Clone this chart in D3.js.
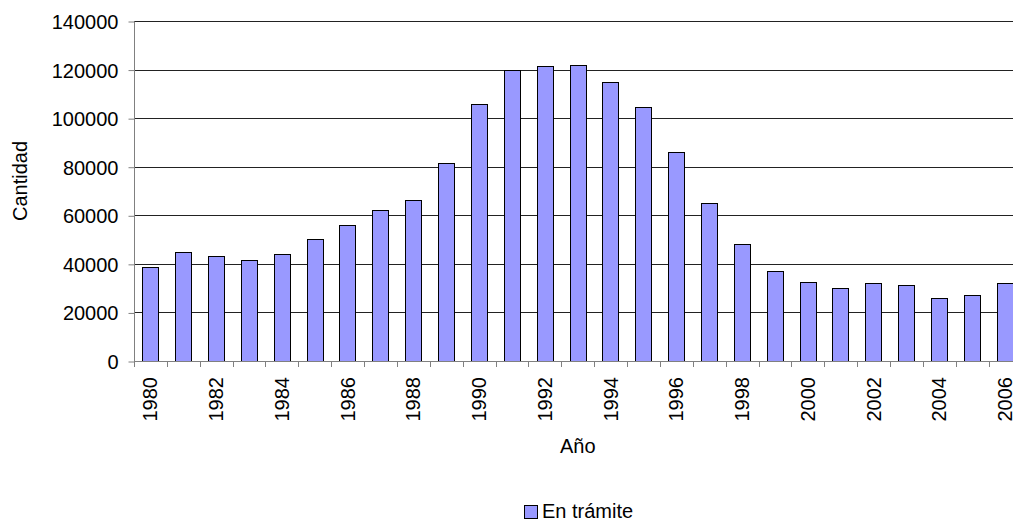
<!DOCTYPE html>
<html>
<head>
<meta charset="utf-8">
<script src="https://cdn.jsdelivr.net/npm/d3@7"></script>
<style>
  html, body { margin: 0; padding: 0; background: #fff; }
  svg { display: block; }
  text { font-family: "Liberation Sans", Arial, sans-serif; fill: #000; }
</style>
</head>
<body>
<svg id="chart" width="1013" height="523"></svg>
<script>
// Expedientes en trámite por año
const years = [1980, 1981, 1982, 1983, 1984, 1985, 1986, 1987, 1988, 1989,
               1990, 1991, 1992, 1993, 1994, 1995, 1996, 1997, 1998, 1999,
               2000, 2001, 2002, 2003, 2004, 2005, 2006];
const enTramite = [38600, 44700, 43100, 41500, 43900, 50200, 55800, 62000, 66100, 81500,
                   105700, 119700, 121300, 121700, 114700, 104400, 85900, 64900, 48000, 36900,
                   32400, 29900, 32200, 31100, 25800, 27000, 32000];
const yTicks = [0, 20000, 40000, 60000, 80000, 100000, 120000, 140000];
const seriesName = "En trámite";

const svg = d3.select("#chart");
const fontSize = 20;

const plot = { left: 134, top: 21, bottom: 361 };
const step = 32.87;
plot.right = plot.left + years.length * step;

const x = d3.scaleBand()
  .domain(years)
  .range([plot.left, plot.right])
  .paddingInner(0.5)
  .paddingOuter(0.25);

const y = d3.scaleLinear()
  .domain([0, 140000])
  .range([plot.bottom, plot.top]);

// horizontal gridlines
svg.append("g")
  .selectAll("line")
  .data(yTicks.filter(d => d > 0))
  .join("line")
  .attr("x1", plot.left)
  .attr("x2", plot.right)
  .attr("y1", d => Math.round(y(d)) + 0.5)
  .attr("y2", d => Math.round(y(d)) + 0.5)
  .attr("stroke", "#222")
  .attr("stroke-width", 1);

// bars
svg.append("g")
  .selectAll("rect")
  .data(years.map((yr, i) => ({ yr, v: enTramite[i] })))
  .join("rect")
  .attr("x", d => Math.round(x(d.yr)) + 0.5)
  .attr("y", d => Math.round(y(d.v)) + 0.5)
  .attr("width", Math.round(x.bandwidth()))
  .attr("height", d => Math.round(y(0)) - Math.round(y(d.v)))
  .attr("fill", "#9999ff")
  .attr("stroke", "#000")
  .attr("stroke-width", 1);

// y axis
const yAxis = d3.axisLeft(y)
  .tickValues(yTicks)
  .tickSize(6)
  .tickPadding(10)
  .tickFormat(d3.format("d"));
const gy = svg.append("g")
  .attr("transform", `translate(${plot.left + 0.5},0.5)`)
  .call(yAxis);
gy.select(".domain").attr("stroke", "#808080").attr("d", `M0,${plot.top}V${plot.bottom}`);
gy.selectAll(".tick line").attr("stroke", "#808080");
gy.selectAll(".tick text")
  .style("font-family", "'Liberation Sans', Arial, sans-serif")
  .style("font-size", fontSize + "px")
  .attr("dy", "0.35em");

// x axis baseline, ticks between categories and labels for even years
const gx = svg.append("g");
gx.append("line")
  .attr("x1", plot.left)
  .attr("x2", plot.right)
  .attr("y1", plot.bottom + 0.5)
  .attr("y2", plot.bottom + 0.5)
  .attr("stroke", "#808080");
gx.selectAll("line.tick")
  .data(d3.range(years.length + 1))
  .join("line")
  .attr("class", "tick")
  .attr("x1", i => Math.round(plot.left + i * x.step()) + 0.5)
  .attr("x2", i => Math.round(plot.left + i * x.step()) + 0.5)
  .attr("y1", plot.bottom)
  .attr("y2", plot.bottom + 6)
  .attr("stroke", "#808080");
gx.selectAll("text")
  .data(years.filter(yr => yr % 2 === 0))
  .join("text")
  .attr("transform", yr => `translate(${x(yr) + x.bandwidth() / 2},${plot.bottom + 16}) rotate(-90)`)
  .attr("text-anchor", "end")
  .attr("dy", "0.35em")
  .style("font-size", fontSize + "px")
  .text(yr => yr);

// axis titles
svg.append("text")
  .attr("x", (plot.left + plot.right) / 2)
  .attr("y", 453)
  .attr("text-anchor", "middle")
  .style("font-size", fontSize + "px")
  .text("Año");

svg.append("text")
  .attr("transform", `translate(27,${181}) rotate(-90)`)
  .attr("text-anchor", "middle")
  .style("font-size", fontSize + "px")
  .text("Cantidad");

// legend
const legend = svg.append("g").attr("transform", "translate(524,505)");
legend.append("rect")
  .attr("x", 0.5).attr("y", 0.5)
  .attr("width", 13).attr("height", 13)
  .attr("fill", "#9999ff")
  .attr("stroke", "#000");
legend.append("text")
  .attr("x", 18)
  .attr("y", 13)
  .style("font-size", fontSize + "px")
  .text(seriesName);
</script>
</body>
</html>
